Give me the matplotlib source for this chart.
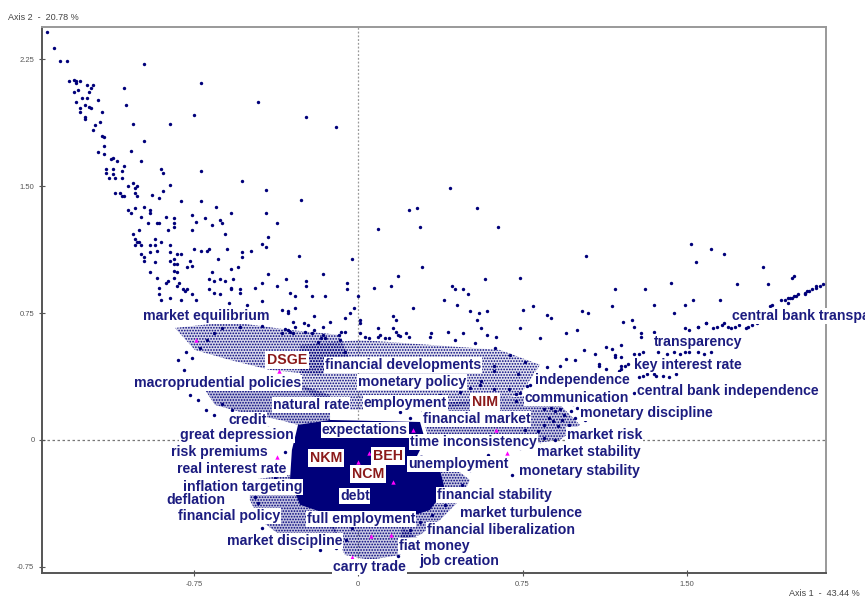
import matplotlib
matplotlib.use("Agg")
import matplotlib.pyplot as plt
from matplotlib.colors import to_rgba

# --- word coordinates on the two factorial axes ---
LEFT_X = [-1.42, -1.39, -1.36, -1.33, -0.98, -1.32, -1.30, -1.29, -1.29, -1.27, -1.24, -1.21, -1.22, -1.23,
          -1.30, -1.28, -1.07, -0.72, -0.46, -1.29, -1.26, -1.24, -1.19, -1.25, -1.23, -1.22, -1.27, -1.27,
          -1.25, -1.25, -1.17, -1.06, -0.75, -1.18, -1.20, -1.21, -1.03, -0.86, -1.17, -1.16, -0.98, -1.16,
          -1.19, -1.16, -1.04, -1.12, -1.13, -1.10, -0.99, -1.07, -1.15, -1.12, -1.08, -1.15, -1.12, -1.14,
          -1.11, -1.08, -0.90, -0.89, -0.72, -1.05, -1.03, -1.01, -1.02, -1.11, -1.09, -1.08, -1.07, -1.02,
          -1.01, -0.94, -0.89, -0.86, -0.91, -0.53, -0.42, -1.05, -1.04, -1.02, -0.98, -0.95, -0.95, -0.99,
          -0.81, -0.72, -0.65, -1.03, -1.00, -0.96, -0.92, -0.91, -0.88, -0.84, -0.84, -0.84, -0.87, -0.76,
          -0.74, -0.76, -0.70, -0.67, -0.63, -0.62, -0.61, -0.58, -0.42, -0.37, -0.41, -1.02, -1.01, -1.00,
          -1.02, -0.99, -0.95, -0.93, -0.93, -0.92, -0.90, -0.99, -0.98, -0.98, -0.95, -0.93, -0.86, -0.86,
          -0.83, -0.81, -0.86, -0.84, -0.84, -0.83, -0.77, -0.78, -0.76, -0.75, -0.72, -0.69, -0.68, -0.64,
          -0.60, -0.53, -0.53, -0.49, -0.44, -0.42, -0.55, -0.58, -0.95, -0.92, -0.84, -0.83, -0.84, -0.88,
          -0.87, -0.82, -0.91, -0.91, -0.90, -0.86, -0.83, -0.80, -0.79, -0.78, -0.81, -0.76, -0.74, -0.67,
          -0.68, -0.66, -0.63, -0.61, -0.57, -0.68, -0.66, -0.63, -0.58, -0.58, -0.54, -0.54, -0.47, -0.44,
          -0.41, -0.37, -0.33, -0.59, -0.51, -0.44, -0.35, -0.32]
LEFT_Y = [2.41, 2.32, 2.24, 2.24, 2.22, 2.12, 2.13, 2.12, 2.11, 2.12, 2.10, 2.10, 2.08, 2.06,
          2.06, 2.07, 2.08, 2.11, 2.00, 2.00, 2.02, 2.02, 2.01, 1.98, 1.97, 1.96, 1.96, 1.94,
          1.91, 1.90, 1.94, 1.98, 1.92, 1.88, 1.86, 1.83, 1.87, 1.87, 1.80, 1.79, 1.77, 1.74,
          1.70, 1.69, 1.71, 1.67, 1.66, 1.65, 1.65, 1.62, 1.60, 1.60, 1.59, 1.58, 1.57, 1.55,
          1.55, 1.55, 1.60, 1.58, 1.59, 1.50, 1.52, 1.50, 1.49, 1.46, 1.46, 1.44, 1.44, 1.46,
          1.44, 1.45, 1.47, 1.51, 1.43, 1.53, 1.48, 1.36, 1.34, 1.37, 1.38, 1.36, 1.34, 1.32,
          1.41, 1.41, 1.38, 1.22, 1.24, 1.28, 1.28, 1.28, 1.32, 1.31, 1.28, 1.26, 1.24, 1.33,
          1.29, 1.24, 1.31, 1.27, 1.30, 1.28, 1.22, 1.34, 1.34, 1.28, 1.20, 1.19, 1.17, 1.17,
          1.15, 1.15, 1.15, 1.19, 1.15, 1.12, 1.17, 1.10, 1.08, 1.06, 1.11, 1.05, 1.15, 1.11,
          1.10, 1.10, 1.06, 1.07, 1.04, 1.04, 1.06, 1.02, 1.03, 1.13, 1.12, 1.12, 1.13, 1.07,
          1.13, 1.11, 1.08, 1.12, 1.16, 1.14, 1.02, 1.01, 0.99, 0.96, 1.00, 0.99, 0.96, 0.93,
          0.94, 0.93, 0.90, 0.86, 0.83, 0.84, 0.91, 0.89, 0.88, 0.89, 0.83, 0.86, 0.83, 0.99,
          0.95, 0.94, 0.95, 0.94, 0.95, 0.89, 0.87, 0.86, 0.89, 0.90, 0.89, 0.87, 0.90, 0.93,
          0.98, 0.91, 0.95, 0.81, 0.80, 0.82, 0.77, 0.76]

MID_X = [-0.24, -0.10, -0.26, 0.42, 0.23, 0.27, 0.54, 0.09, 0.28, 0.64, -0.27, -0.03, 0.29, -0.24,
         -0.24, -0.16, -0.05, -0.05, 0.18, 0.07, 0.15, 0.43, 0.44, 0.48, 0.50, 0.58, 0.74, -0.31,
         -0.29, -0.21, -0.15, 0.00, 0.39, 0.45, -0.32, -0.29, -0.20, -0.06, -0.04, -0.02, 0.01, 0.01,
         0.16, 0.17, 0.25, 0.51, 0.55, 0.59, 0.54, 0.75, 0.80, 0.86, 0.88, -0.30, -0.29, -0.25, -0.23,
         -0.16, -0.13, -0.20, -0.21, -0.32, -0.31, -0.30, -0.35, -0.16, -0.17, -0.08, -0.06, -0.09,
         0.09, 0.16, 0.17, 0.18, 0.22, 0.23, 0.03, 0.05, 0.09, 0.12, 0.14, 0.33, 0.41, 0.48, 0.56,
         0.59, 0.63, 0.74, 0.83, 0.95, 1.00, 0.62, 0.62, 0.73, 0.86, 0.92, 1.10, 0.56, 0.62, 0.69,
         0.72, 0.72, 0.77, 0.74, 1.26]
MID_Y = [1.91, 1.85, 1.42, 1.49, 1.36, 1.37, 1.37, 1.25, 1.26, 1.26, 1.09, 1.07, 1.02, 0.94,
         0.91, 0.98, 0.93, 0.89, 0.97, 0.90, 0.91, 0.91, 0.89, 0.89, 0.86, 0.95, 0.96, 0.87,
         0.85, 0.85, 0.85, 0.85, 0.83, 0.80, 0.75, 0.78, 0.73, 0.72, 0.75, 0.78, 0.71, 0.69,
         0.73, 0.71, 0.78, 0.76, 0.75, 0.76, 0.71, 0.77, 0.79, 0.74, 0.72, 0.70, 0.67, 0.69, 0.68,
         0.67, 0.70, 0.65, 0.63, 0.65, 0.64, 0.63, 0.63, 0.62, 0.60, 0.64, 0.64, 0.62,
         0.66, 0.66, 0.64, 0.62, 0.63, 0.61, 0.61, 0.60, 0.61, 0.60, 0.60, 0.63, 0.64, 0.63, 0.66,
         0.62, 0.61, 0.66, 0.60, 0.63, 0.65, 0.44, 0.41, 0.39, 0.43, 0.44, 0.44, 0.35, 0.30, 0.30,
         0.27, 0.23, 0.32, 0.28, 0.28]

RIGHT_X = [1.52, 1.61, 1.67, 1.54, 1.04, 1.85, 1.98, 1.43, 1.73, 1.87, 1.17, 1.31, 1.53, 1.65,
           1.16, 1.35, 1.49, 1.44, 1.02, 1.05, 1.21, 1.25, 1.26, 1.29, 1.29, 1.35, 1.55, 1.59,
           1.93, 1.96, 1.97, 1.99, 2.00, 2.01, 2.04, 2.05, 2.07, 2.09, 2.11, 1.88, 1.89, 1.96,
           1.98, 1.95, 2.04, 2.06, 2.09, 2.12, 1.99, 1.49, 1.51, 1.55, 1.59, 1.62, 1.64, 1.66,
           1.67, 1.69, 1.70, 1.72, 1.74, 1.77, 1.78, 1.80, 1.82, 1.26, 1.28, 1.30, 1.37, 1.41,
           1.44, 1.47, 1.49, 1.51, 1.55, 1.58, 1.61, 1.13, 1.16, 1.20, 1.17, 1.08, 1.03, 0.99,
           0.95, 1.10, 1.13, 1.20, 1.23, 1.28, 1.30, 1.32, 1.35, 1.36, 1.39, 1.42, 1.45, 1.17,
           1.20, 1.22, 1.20, 1.19,
           0.85, 0.88, 0.90, 0.92, 0.94, 0.97, 0.99, 0.87, 0.89, 0.93, 0.96, 0.91, 0.85, 1.00,
           0.98, 0.76, 0.78, 0.82, 0.74, 0.85]
RIGHT_Y = [1.16, 1.13, 1.10, 1.05, 1.09, 1.02, 0.96, 0.93, 0.92, 0.92, 0.89, 0.89, 0.83, 0.83,
           0.79, 0.80, 0.80, 0.75, 0.76, 0.75, 0.70, 0.71, 0.67, 0.63, 0.61, 0.64, 0.67, 0.69,
           0.83, 0.84, 0.84, 0.85, 0.85, 0.86, 0.86, 0.88, 0.89, 0.90, 0.91, 0.79, 0.80, 0.81,
           0.84, 0.83, 0.87, 0.88, 0.91, 0.92, 0.97, 0.66, 0.65, 0.67, 0.69, 0.66, 0.67, 0.68,
           0.69, 0.67, 0.66, 0.67, 0.68, 0.66, 0.67, 0.68, 0.69, 0.51, 0.51, 0.52, 0.52, 0.51,
           0.52, 0.51, 0.52, 0.52, 0.52, 0.51, 0.52, 0.55, 0.54, 0.56, 0.50, 0.51, 0.53, 0.47,
           0.48, 0.45, 0.42, 0.44, 0.45, 0.37, 0.38, 0.39, 0.39, 0.38, 0.38, 0.37, 0.39, 0.49,
           0.49, 0.44, 0.42, 0.41,
           0.18, 0.19, 0.17, 0.18, 0.15, 0.17, 0.13, 0.13, 0.11, 0.12, 0.09, 0.08, 0.09, 0.19,
           0.21, 0.06, 0.02, 0.05, 0.00, 0.01]

# scattered words along the fringe of the crowded centre
FRINGE_X = [-0.787, -0.759, -0.723, -0.691, -0.659, -0.622, -0.540, -0.440, -0.335, -0.243, -0.152, -0.084,
            -0.061, -0.823, -0.796, -0.769, -0.732, -0.695, -0.659, -0.622, -0.577, -0.522, -0.458, -0.412,
            -0.348, -0.495, -0.472, -0.458, -0.522, -0.440, -0.394, -0.312, -0.266, -0.175, -0.102, -0.056,
            -0.029, 0.008, 0.099, 0.181, 0.213, 0.236, 0.282, 0.336, 0.396, 0.442, 0.474, 0.510, 0.547,
            0.592, 0.647, 0.674, 0.702, 0.738, 0.830, 0.898, 0.989, 1.035, 1.058, 0.853, 0.784, 0.830,
            0.761, 0.692, 0.624, 0.533, 0.441, 0.327, 0.190, 0.099, 0.008, -0.184, 0.464, 0.510, 0.556,
            0.373, 0.396, 0.190, 0.236, -0.312, -0.335, -0.367, -0.380]
FRINGE_Y = [0.520, 0.485, 0.544, 0.591, 0.633, 0.662, 0.668, 0.674, 0.656, 0.639, 0.603, 0.591,
            0.520, 0.473, 0.414, 0.266, 0.237, 0.177, 0.148, 0.213, 0.177, 0.130, 0.101, 0.071,
            0.059, -0.296, -0.337, -0.373, -0.414, -0.520, -0.562, -0.603, -0.639, -0.650, -0.639, -0.591,
            -0.520, -0.710, -0.721, -0.686, -0.591, -0.532, -0.485, -0.444, -0.384, -0.325, -0.266, -0.177,
            -0.118, -0.089, -0.106, -0.154, -0.207, -0.047, -0.030, 0.0, 0.059, 0.118, 0.166, 0.266, 0.325,
            0.384, 0.461, 0.503, 0.544, 0.574, 0.591, 0.609, 0.615, 0.621, 0.633, 0.580, 0.284, 0.308,
            0.325, 0.266, 0.225, 0.166, 0.130, 0.0, -0.071, -0.148, -0.225]

# highlighted (magenta) points
HI_X = [-0.36, -0.74, 0.05, 0.00, 0.25, 0.63, 0.68, 0.16, 0.15, 0.06, -0.03, -0.37]
HI_Y = [0.41, 0.59, -0.08, -0.13, 0.06, 0.06, -0.08, -0.25, -0.56, -0.57, -0.69, -0.10]

# outline of the saturated central cloud
CORE_X = [-0.275, -0.129, 0.282, 0.305, 0.259, 0.373, 0.396, 0.327, 0.190, 0.008, -0.129, -0.266, -0.312, -0.303]
CORE_Y = [0.089, 0.118, 0.106, 0.0, -0.118, -0.177, -0.296, -0.414, -0.473, -0.485, -0.444, -0.384, -0.237, -0.059]

# outlines of the crowded (but not saturated) areas, with their rough crowding level
ZONES = [
    ([-0.837, -0.586, -0.312, -0.084, -0.038, -0.175, -0.403, -0.586, -0.746],
     [0.662, 0.698, 0.650, 0.621, 0.473, 0.384, 0.414, 0.473, 0.532]),
    ([-0.700, -0.540, -0.266, -0.129, -0.129, -0.275, -0.358, -0.540, -0.654],
     [0.296, 0.325, 0.325, 0.266, 0.118, 0.089, 0.118, 0.166, 0.207]),
    ([-0.266, 0.008, 0.327, 0.647, 0.830, 0.738, 0.510, 0.282, -0.129, -0.266],
     [0.562, 0.591, 0.562, 0.532, 0.444, 0.266, 0.207, 0.177, 0.177, 0.325]),
    ([0.282, 0.556, 0.830, 0.921, 1.012, 0.921, 0.738, 0.510, 0.327],
     [0.207, 0.237, 0.266, 0.207, 0.089, 0.0, -0.030, 0.0, -0.030]),
    ([0.282, 0.419, 0.510, 0.464, 0.373, 0.282, 0.190, 0.213, 0.373],
     [-0.089, -0.148, -0.237, -0.355, -0.473, -0.562, -0.591, -0.444, -0.296]),
    ([-0.495, -0.312, -0.266, -0.129, -0.084, -0.221, -0.358, -0.449, -0.495],
     [-0.237, -0.207, -0.384, -0.444, -0.591, -0.621, -0.562, -0.473, -0.355]),
    ([-0.129, 0.190, 0.282, 0.190, 0.053, -0.061],
     [-0.503, -0.503, -0.591, -0.680, -0.710, -0.680]),
]
ZONE_LEVEL = [0.35, 0.55, 0.25, 0.45, 0.5, 0.55, 0.45]

WORDS = ["market equilibrium", "central bank transparency", "transparency", "financial developments",
         "key interest rate", "macroprudential policies", "monetary policy", "independence",
         "central bank independence", "natural rate", "employment", "communication", "credit",
         "financial market", "monetary discipline", "expectations", "great depression", "market risk",
         "time inconsistency", "risk premiums", "market stability", "real interest rate", "unemployment",
         "monetary stability", "inflation targeting", "debt", "deflation", "financial stability",
         "market turbulence", "financial policy", "full employment", "financial liberalization",
         "market discipline", "fiat money", "job creation", "carry trade"]
WORD_X = [-0.983, 1.707, 1.351, -0.152, 1.259, -1.024, 0.0, 0.807, 1.273, -0.390, 0.026, 0.761, -0.594,
          0.295, 1.013, -0.166, -0.814, 0.953, 0.236, -0.855, 0.816, -0.828, 0.226, 0.733, -0.800,
          -0.084, -0.874, 0.359, 0.464, -0.823, -0.234, 0.313, -0.600, 0.186, 0.278, -0.116]
WORD_Y = [0.733, 0.733, 0.580, 0.444, 0.444, 0.337, 0.343, 0.355, 0.290, 0.207, 0.219, 0.248, 0.118,
          0.124, 0.160, 0.059, 0.030, 0.030, -0.012, -0.071, -0.071, -0.171, -0.142, -0.183, -0.278,
          -0.331, -0.355, -0.325, -0.432, -0.449, -0.467, -0.532, -0.597, -0.627, -0.716, -0.751]

GROUPS = ["DSGE", "NIM", "NKM", "BEH", "NCM"]
GROUP_X = [-0.417, 0.519, -0.221, 0.067, -0.029]
GROUP_Y = [0.473, 0.225, -0.106, -0.095, -0.201]

NAVY = "#00007a"
plt.rcParams["font.family"] = ["Liberation Sans", "DejaVu Sans"]
plt.rcParams["hatch.linewidth"] = 0.8

fig = plt.figure(figsize=(8.65, 5.99), dpi=100)
ax = fig.add_axes([0.0486, 0.0434, 0.9064, 0.9116])
ax.set_xlim(-1.444, 2.136)
ax.set_ylim(-0.787, 2.442)

ax.axhline(0, color="#777777", lw=0.9, ls=(0, (2, 2)), zorder=1)
ax.axvline(0, color="#999999", lw=0.9, ls=(0, (1.5, 1.5)), zorder=1)

for (zx, zy), lvl in zip(ZONES, ZONE_LEVEL):
    ax.fill(zx, zy, facecolor=to_rgba(NAVY, lvl * 0.45), edgecolor=NAVY, hatch="......",
            lw=0, zorder=2)
ax.fill(CORE_X, CORE_Y, color=NAVY, lw=0, zorder=2)

for xs, ys in [(LEFT_X, LEFT_Y), (MID_X, MID_Y), (RIGHT_X, RIGHT_Y), (FRINGE_X, FRINGE_Y)]:
    ax.scatter(xs, ys, s=6, color=NAVY, lw=0, zorder=3)
ax.scatter(HI_X, HI_Y, s=10, color="#ff00ff", marker="^", lw=0, zorder=3)

for w, x, y in zip(WORDS, WORD_X, WORD_Y):
    ax.text(x, y, w, color="#1c1c80", fontsize=10.2, fontweight="bold", ha="left", va="center",
            zorder=5, clip_on=False,
            bbox=dict(boxstyle="square,pad=0.06", fc="white", ec="none"))
for g, x, y in zip(GROUPS, GROUP_X, GROUP_Y):
    ax.text(x, y, g, color="#8b1a1a", fontsize=10.2, fontweight="bold", ha="left", va="center",
            zorder=6, bbox=dict(boxstyle="square,pad=0.12", fc="white", ec="none"))

ax.set_xticks([-0.75, 0, 0.75, 1.50])
ax.set_xticklabels(["-0.75", "0", "0.75", "1.50"])
ax.set_yticks([-0.75, 0, 0.75, 1.50, 2.25])
ax.set_yticklabels(["-0.75", "0", "0.75", "1.50", "2.25"])
ax.tick_params(direction="inout", length=5, width=0.8, color="#555555", labelsize=5.5,
               labelcolor="#555555", pad=3)
for side in ["left", "bottom"]:
    ax.spines[side].set_color("#555555")
    ax.spines[side].set_linewidth(1.4)
for side in ["top", "right"]:
    ax.spines[side].set_color("#999999")
    ax.spines[side].set_linewidth(1.4)

fig.text(8 / 865, 1 - 17 / 599, "Axis 2  -  20.78 %", fontsize=6.5, color="#444444", va="center")
fig.text(860 / 865, 1 - 593 / 599, "Axis 1  -  43.44 %", fontsize=6.5, color="#444444",
         va="center", ha="right")

fig.savefig("out.png", dpi=100)
